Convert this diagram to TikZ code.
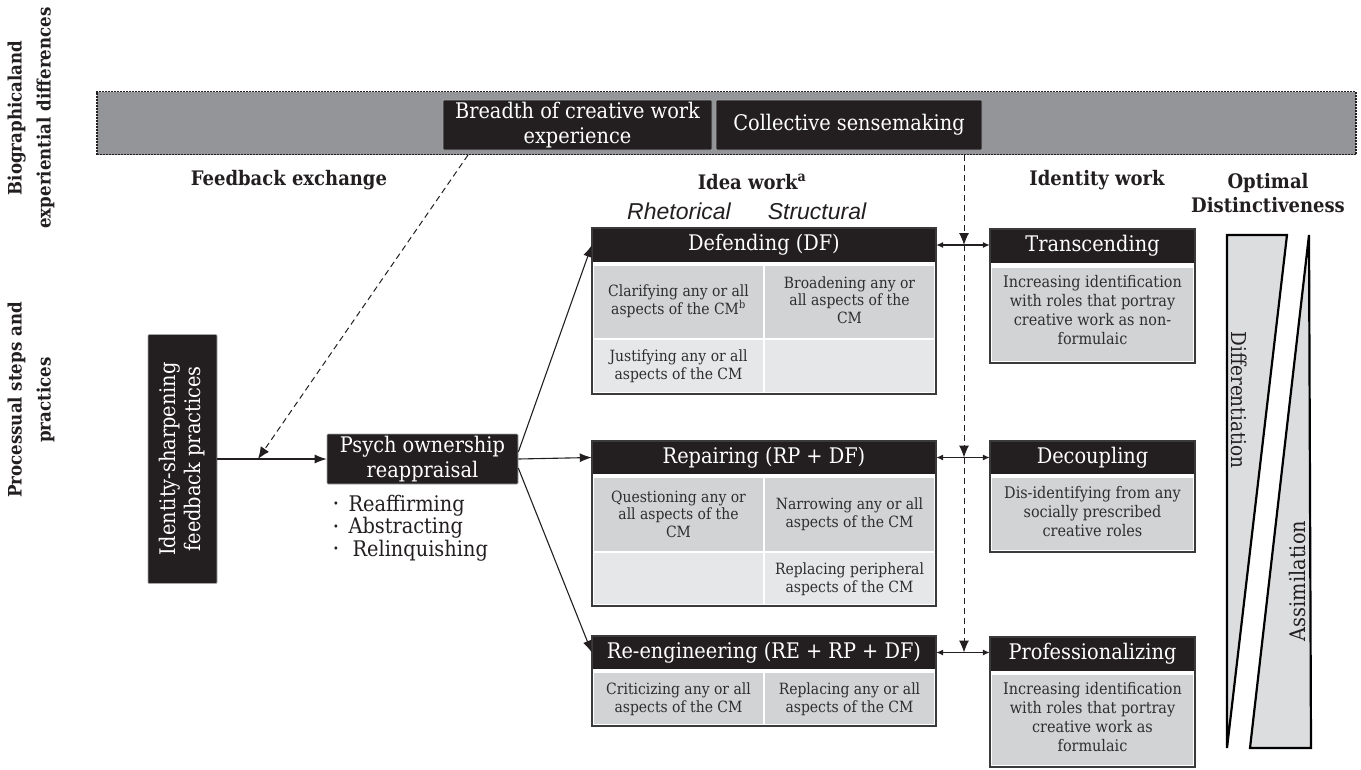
\documentclass[tikz,border=0pt]{standalone}
\usepackage{fontspec}
\setmainfont{DejaVu Serif Condensed}
\newfontfamily\myitsans{Liberation Sans}
\usetikzlibrary{arrows.meta,calc}
\definecolor{blk}{HTML}{231F20}
\definecolor{bandgray}{HTML}{939598}
\definecolor{rowa}{HTML}{D1D3D4}
\definecolor{rowb}{HTML}{E6E7E8}
\definecolor{trigray}{HTML}{DCDDDE}
\definecolor{edgegray}{HTML}{3A3A3A}
\definecolor{txt}{HTML}{2E2E2E}
\newcommand\mybig{\fontsize{21.5}{25}\selectfont}
\newcommand\mybody{\fontsize{15.5}{17.5}\selectfont}
\newcommand\myid{\fontsize{16}{19}\selectfont}
\newcommand\myhead{\fontsize{20}{24}\selectfont\bfseries}
\newcommand\myside{\fontsize{18.5}{29}\selectfont\bfseries}
\newcommand\myital{\fontsize{23}{24}\selectfont\myitsans\itshape}
\newcommand\mybul{\raisebox{0.3ex}{\scalebox{0.5}{\textbullet}}\hspace{0.45em}}
\begin{document}
\begin{tikzpicture}[x=1pt,y=-1pt,
  hdr/.style={fill=blk, text=white, inner sep=0pt, font=\mybig},
  blkbox/.style={fill=blk, draw=gray!70, line width=0.6pt, text=white, inner sep=0pt, font=\mybig, align=center, rounded corners=1pt},
  cell/.style={align=center, inner sep=0pt, font=\mybody, text=txt},
  idcell/.style={align=center, inner sep=0pt, font=\myid, text=txt},
  boxline/.style={draw=edgegray, line width=1.4pt},
  arr/.style={draw=blk, line width=1.1pt, -{Latex[length=12pt,width=9pt]}},
  dbl/.style={draw=blk, line width=1.1pt, {Latex[length=7pt,width=6pt]}-{Latex[length=7pt,width=6pt]}},
  dsh/.style={draw=blk, line width=1pt, dash pattern=on 6pt off 4pt, -{Latex[length=12pt,width=10pt]}},
  heading/.style={font=\myhead, text=blk, align=center, inner sep=0pt},
  tri/.style={fill=trigray, draw=black, line width=2.2pt}
]
\useasboundingbox (0,0) rectangle (1361,769);

% side labels
\node[rotate=90, align=center, font=\myside, text=blk] (lab1) at (31,118) {Biographicaland\\experiential differences};
\node[rotate=90, align=center, font=\myside, text=blk] (lab2) at (31,400) {Processual steps and\\practices};

% top band
\node[draw=blk, fill=bandgray, line width=1.8pt, dash pattern=on 1.8pt off 1.2pt, minimum width=1259pt, minimum height=63pt, inner sep=0pt] (band) at (726.5,123) {};
\node[blkbox, minimum width=269pt, minimum height=50pt] (brd) at (577.5,125) {Breadth of creative work\\experience};
\node[blkbox, minimum width=266pt, minimum height=50pt] (col) at (849,125) {Collective sensemaking};

% headings
\node[heading] (fe) at (289,180) {Feedback exchange};
\node[heading] (iw) at (752,182) {Idea work\textsuperscript{a}};
\node[heading] (idw) at (1097,180) {Identity work};
\node[heading] (od) at (1268,193) {Optimal\\Distinctiveness};
\node[font=\myital, text=blk, inner sep=0pt] (rh) at (679,211) {Rhetorical};
\node[font=\myital, text=blk, inner sep=0pt] (st) at (817,211) {Structural};

% left boxes
\node[fill=blk, draw=gray!70, line width=0.6pt, rounded corners=1pt, minimum width=69pt, minimum height=249pt, inner sep=0pt] (isp) at (182.5,459) {};
\node[rotate=90, align=center, text=white, font=\mybig, inner sep=0pt] (ispt) at (isp.center) {Identity-sharpening\\feedback practices};
\node[blkbox, minimum width=191pt, minimum height=50pt] (po) at (422.5,459) {Psych ownership\\reappraisal};
\node[anchor=west, align=left, font=\fontsize{21.5}{22.5}\selectfont, text=blk, inner sep=0pt] (bul) at (333,528)
  {\mybul Reaffirming\\\mybul Abstracting\\\mybul\hspace{4pt}Relinquishing};

% Defending table
\fill[white] (592,228) rectangle (936,394);
\fill[rowa] (594,266) rectangle (763,338);
\fill[rowa] (765,266) rectangle (934,338);
\fill[rowb] (594,340) rectangle (763,392);
\fill[rowb] (765,340) rectangle (934,392);
\node[hdr, minimum width=344pt, minimum height=34pt] (df) at (764,245) {Defending (DF)};
\draw[boxline] (592,228) rectangle (936,394);
\node[cell] (df11) at (678.5,301) {Clarifying any or all\\aspects of the CM\textsuperscript{b}};
\node[cell] (df12) at (849.5,300) {Broadening any or\\all aspects of the\\CM};
\node[cell] (df21) at (678.5,366) {Justifying any or all\\aspects of the CM};

% Repairing table
\fill[white] (592,441) rectangle (936,606);
\fill[rowa] (594,478) rectangle (763,551);
\fill[rowa] (765,478) rectangle (934,551);
\fill[rowb] (594,553) rectangle (763,604);
\fill[rowb] (765,553) rectangle (934,604);
\node[hdr, minimum width=344pt, minimum height=33pt] (rp) at (764,457.5) {Repairing (RP + DF)};
\draw[boxline] (592,441) rectangle (936,606);
\node[cell] (rp11) at (678.5,514) {Questioning any or\\all aspects of the\\CM};
\node[cell] (rp12) at (849.5,514) {Narrowing any or all\\aspects of the CM};
\node[cell] (rp22) at (849.5,579) {Replacing peripheral\\aspects of the CM};

% Re-engineering table
\fill[white] (592,636) rectangle (936,726);
\fill[rowa] (594,673) rectangle (763,724);
\fill[rowa] (765,673) rectangle (934,724);
\node[hdr, minimum width=344pt, minimum height=33pt] (re) at (764,652.5) {Re-engineering (RE + RP + DF)};
\draw[boxline] (592,636) rectangle (936,726);
\node[cell] (re11) at (678.5,699) {Criticizing any or all\\aspects of the CM};
\node[cell] (re12) at (849.5,699) {Replacing any or all\\aspects of the CM};

% Identity boxes
\fill[white] (990,229) rectangle (1195,363);
\fill[rowa] (992,268) rectangle (1193,361);
\node[hdr, minimum width=205pt, minimum height=34pt] (tr) at (1092.5,246) {Transcending};
\draw[boxline] (990,229) rectangle (1195,363);
\node[idcell] (trt) at (1092.5,310) {Increasing identification\\with roles that portray\\creative work as non-\\formulaic};

\fill[white] (990,441) rectangle (1195,552);
\fill[rowa] (992,478) rectangle (1193,550);
\node[hdr, minimum width=205pt, minimum height=33pt] (dc) at (1092.5,457.5) {Decoupling};
\draw[boxline] (990,441) rectangle (1195,552);
\node[idcell] (dct) at (1092.5,512) {Dis-identifying from any\\socially prescribed\\creative roles};

\fill[white] (990,637) rectangle (1195,767);
\fill[rowa] (992,675) rectangle (1193,765);
\node[hdr, minimum width=205pt, minimum height=34pt] (pr) at (1092.5,654) {Professionalizing};
\draw[boxline] (990,637) rectangle (1195,767);
\node[idcell] (prt) at (1092.5,717) {Increasing identification\\with roles that portray\\creative work as\\formulaic};

% triangles
\filldraw[tri] (1227,235) -- (1287,235) -- (1227,748) -- cycle;
\filldraw[tri] (1309,235) -- (1311,748) -- (1250,748) -- cycle;
\node[rotate=-90, font=\fontsize{20.5}{24}\selectfont, text=blk, inner sep=0pt] (dif) at (1239,400) {Differentiation};
\node[rotate=90, font=\mybig, text=blk, inner sep=0pt] (asm) at (1297,581) {Assimilation};

% connectors
\draw[arr] (isp.east) -- (po.west);
\coordinate (bd) at (468,155);
\coordinate (bt) at (258,459);
\draw[dsh] (bd) -- (bt);
\draw[arr] ([yshift=7pt]po.east) -- (df.west);
\draw[arr] (po.east) -- (rp.west);
\draw[arr] ([yshift=-9pt]po.east) -- (re.west);
\draw[dbl] (df.east) -- (df.east -| tr.west);
\draw[dbl] (rp.east) -- (rp.east -| dc.west);
\draw[dbl] (re.east) -- (re.east -| pr.west);
\coordinate (vt) at (964,155);
\draw[dsh] (vt) -- (vt |- df.east);
\draw[dsh] (vt |- df.east) -- (vt |- rp.east);
\draw[dsh] (vt |- rp.east) -- (vt |- re.east);
\end{tikzpicture}
\end{document}
